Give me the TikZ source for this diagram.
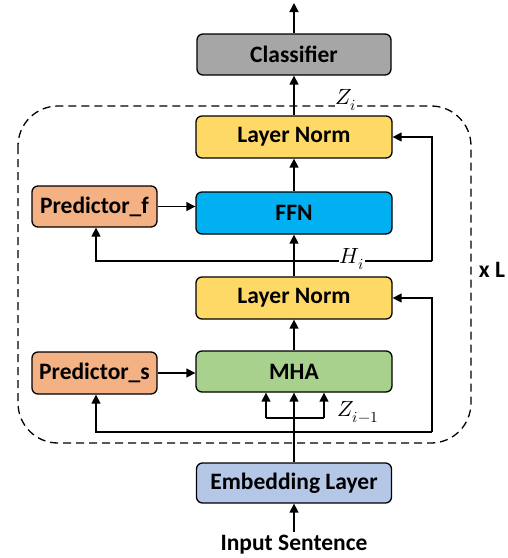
\documentclass[tikz,border=0pt]{standalone}
\usepackage{fontspec}
\usepackage{unicode-math}
\setmainfont{Carlito}
\setmathfont{Latin Modern Math}
\usetikzlibrary{arrows.meta}
\definecolor{cgray}{HTML}{A6A6A6}
\definecolor{cyel}{HTML}{FFD966}
\definecolor{cblue}{HTML}{00B0F0}
\definecolor{corange}{HTML}{F4B183}
\definecolor{cgreen}{HTML}{A9D18E}
\definecolor{cemb}{HTML}{B4C7E7}
\tikzset{
  blk/.style={draw=black, line width=1.3pt, rounded corners=6pt, minimum width=196pt, minimum height=42pt, inner sep=0pt, font=\fontsize{23.5}{25}\selectfont\bfseries},
  pred/.style={blk, minimum width=125pt},
  arr/.style={line width=1.4pt, -{Triangle[length=9pt,width=9pt]}},
  ln/.style={line width=1.4pt},
  lbl/.style={font=\fontsize{22}{24}\selectfont, inner sep=1pt}
}
\begin{document}
\begin{tikzpicture}[x=1pt,y=-1pt]
\useasboundingbox (0,0) rectangle (508,558);
% dashed repeat box
\draw[line width=1.3pt, dash pattern=on 8pt off 5pt, rounded corners=40pt] (18,106) rectangle (471,443);
% nodes
\node[blk, fill=cgray, minimum width=194pt, minimum height=41pt] (cls) at (294,54.5) {Classifier};
\node[blk, fill=cyel] (ln2) at (294,137) {Layer Norm};
\node[blk, fill=cblue] (ffn) at (294,213) {FFN};
\node[pred, fill=corange, minimum height=41pt] (pf) at (94.5,206.5) {Predictor\_f};
\node[blk, fill=cyel] (ln1) at (294,298) {Layer Norm};
\node[blk, fill=cgreen, minimum height=41pt] (mha) at (294,371.5) {MHA};
\node[pred, fill=corange] (ps) at (94.5,373) {Predictor\_s};
\node[blk, fill=cemb, minimum width=195pt, minimum height=40pt] (emb) at (294,483) {Embedding Layer};
\node[font=\fontsize{23.5}{25}\selectfont\bfseries, inner sep=0pt] (inp) at (294,545) {Input Sentence};
\node[font=\fontsize{23.5}{25}\selectfont\bfseries, inner sep=0pt] (xl) at (492,270) {x L};
% coordinates
\coordinate (top) at (294,3);
\coordinate (inb) at (294,532);
\coordinate (jl) at (266,418);
\coordinate (jr) at (324,418);
\coordinate (bl) at (96,432);
\coordinate (br) at (432,432);
\coordinate (hl) at (96,261);
\coordinate (hr) at (432,261);
% main flow
\draw[arr] (inb) -- (emb.south);
\draw[arr] (emb.north) -- (mha.south);
\draw[ln] (jl) -- (jr);
\draw[arr] (jl) -- (jl |- mha.south);
\draw[arr] (jr) -- (jr |- mha.south);
\draw[arr] (mha.north) -- (ln1.south);
\draw[arr] (ln1.north) -- (ffn.south);
\draw[arr] (ffn.north) -- (ln2.south);
\draw[arr] (ln2.north) -- (cls.south);
\draw[arr] (cls.north) -- (top);
% predictors
\draw[arr] (ps.east) -- (ps.east -| mha.west);
\draw[arr] (pf.east) -- (pf.east -| ffn.west);
% residual loops
\draw[arr] (br) -- (bl) -- (bl |- ps.south);
\draw[arr] (br) |- (ln1.east);
\draw[arr] (hr) -- (hl) -- (hl |- pf.south);
\draw[arr] (hr) |- (ln2.east);
% labels
\node[lbl, fill=white] (zi) at (346,100) {$Z_i$};
\node[lbl, fill=white] (hi) at (352,259) {$H_i$};
\node[lbl] (zim) at (358,412) {$Z_{i-1}$};
\end{tikzpicture}
\end{document}
